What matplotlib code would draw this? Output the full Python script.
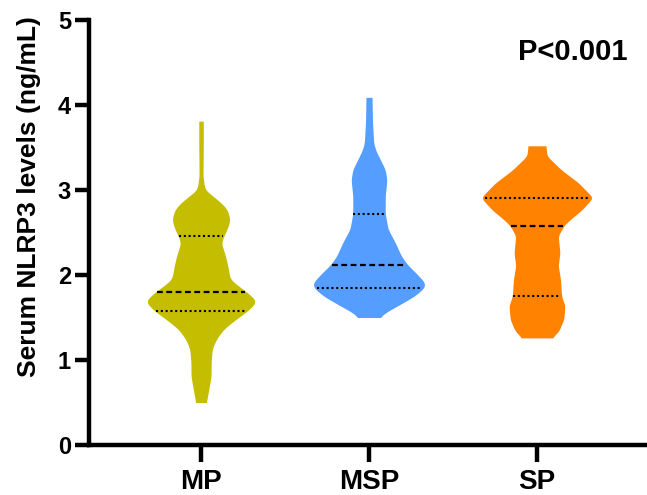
import numpy as np
import matplotlib
matplotlib.use("Agg")
import matplotlib.pyplot as plt

plt.rcParams["font.family"] = ["Liberation Sans", "DejaVu Sans"]
plt.rcParams["font.weight"] = "bold"

groups = ["MP", "MSP", "SP"]
colors = ["#C4BD00", "#559EFF", "#FF8300"]

# violin outline: level (ng/mL) -> relative density (widest = 1)
mp_y = [3.81, 3.55, 3.16, 3.00, 2.93, 2.85, 2.77, 2.65, 2.56, 2.46, 2.38, 2.22,
        2.07, 1.95, 1.87, 1.80, 1.69, 1.58, 1.52, 1.44, 1.36, 1.24, 1.13, 0.97,
        0.81, 0.66, 0.50]
mp_d = [0.04, 0.04, 0.035, 0.07, 0.21, 0.36, 0.47, 0.52, 0.48, 0.41, 0.36, 0.44,
        0.49, 0.52, 0.67, 0.82, 1.00, 0.84, 0.71, 0.55, 0.40, 0.27, 0.20, 0.18,
        0.18, 0.14, 0.095]
msp_y = [4.09, 3.79, 3.55, 3.46, 3.40, 3.24, 3.12, 2.93, 2.72, 2.54, 2.38, 2.22,
         2.12, 2.01, 1.91, 1.85, 1.75, 1.64, 1.56, 1.50]
msp_d = [0.054, 0.063, 0.084, 0.125, 0.17, 0.29, 0.32, 0.29, 0.29, 0.34, 0.47, 0.58,
         0.69, 0.86, 1.00, 0.99, 0.81, 0.52, 0.30, 0.19]
sp_y = [3.52, 3.40, 3.24, 3.08, 2.91, 2.77, 2.65, 2.58, 2.46, 2.26, 2.11, 1.95,
        1.75, 1.64, 1.48, 1.34, 1.26]
sp_d = [0.16, 0.18, 0.43, 0.75, 1.00, 0.81, 0.59, 0.48, 0.38, 0.41, 0.38, 0.42,
        0.44, 0.50, 0.48, 0.39, 0.27]

# median and quartiles
medians = [1.80, 2.12, 2.58]
q1 = [1.58, 1.85, 1.75]
q3 = [2.46, 2.72, 2.91]

p_text = "P<0.001"
ylabel = "Serum NLRP3 levels (ng/mL)"

HALF_W = 0.333


def outline(ys, ds):
    ys = np.asarray(ys)[::-1]
    ds = np.asarray(ds)[::-1]
    yy = np.linspace(ys[0], ys[-1], 500)
    ww = np.interp(yy, ys, ds)
    k = np.exp(-0.5 * (np.arange(-15, 16) / 5.0) ** 2)
    k /= k.sum()
    ww = np.convolve(np.pad(ww, 15, mode="edge"), k, mode="valid")
    return yy, ww * HALF_W


fig = plt.figure(figsize=(6.47, 4.95), dpi=100)
ax = fig.add_axes([89 / 647, 50 / 495, (647 - 89) / 647, 425 / 495])

profiles = [(mp_y, mp_d), (msp_y, msp_d), (sp_y, sp_d)]
for i, ((ys, ds), c) in enumerate(zip(profiles, colors)):
    yy, ww = outline(ys, ds)
    ax.fill_betweenx(yy, i - ww, i + ww, color=c, lw=0, zorder=2)
    for v, ls, lw in [(medians[i], (0, (2.6, 1.6)), 1.6),
                      (q1[i], (0, (1, 1.3)), 1.5), (q3[i], (0, (1, 1.3)), 1.5)]:
        w = np.interp(v, yy, ww) * 0.96
        ax.plot([i - w, i + w], [v, v], color="black", ls=ls, lw=lw, zorder=3)

ax.set_xlim(-0.667, 2.655)
ax.set_ylim(0, 5)
ax.set_yticks([0, 1, 2, 3, 4, 5])
ax.set_xticks(range(len(groups)))
ax.set_xticklabels(groups)
for s in ["top", "right"]:
    ax.spines[s].set_visible(False)
for s in ["left", "bottom"]:
    ax.spines[s].set_linewidth(3.2)
    ax.spines[s].set_capstyle("projecting")
ax.tick_params(axis="y", length=10, width=3.2, labelsize=17, pad=3)
ax.tick_params(axis="x", length=12, width=3.2, labelsize=20, pad=5)
ax.set_ylabel(ylabel, fontsize=19, fontweight="bold", va="center")
ax.yaxis.set_label_coords(-0.108, 0.585)
ax.text(0.965, 0.905, p_text, transform=ax.transAxes, ha="right", va="baseline",
        fontsize=21, fontweight="bold")

fig.savefig("out.png", dpi=100)
